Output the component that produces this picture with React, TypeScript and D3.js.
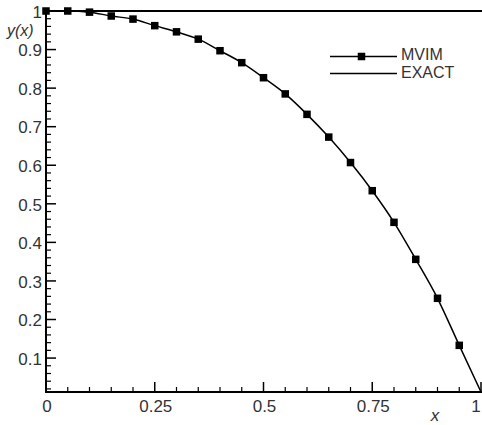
import React from "react";
import * as d3 from "d3";

const xValues = [0, 0.05, 0.1, 0.15, 0.2, 0.25, 0.3, 0.35, 0.4, 0.45, 0.5, 0.55, 0.6, 0.65, 0.7, 0.75, 0.8, 0.85, 0.9, 0.95];
const mvimValues = [1.0, 1.0, 0.997, 0.987, 0.979, 0.962, 0.946, 0.927, 0.897, 0.866, 0.827, 0.785, 0.732, 0.673, 0.607, 0.534, 0.452, 0.356, 0.255, 0.133];
const curveEnd = { x: 1, y: 0.012 };
const exactX = [0, 1.005];
const exactY = [1, 1];
const xTicks = [0, 0.25, 0.5, 0.75, 1];
const xTickLabels = ["0", "0.25", "0.5", "0.75", "1"];
const yTicks = [0.1, 0.2, 0.3, 0.4, 0.5, 0.6, 0.7, 0.8, 0.9, 1];
const yTickLabels = ["0.1", "0.2", "0.3", "0.4", "0.5", "0.6", "0.7", "0.8", "0.9", "1"];
const legendLabels = ["MVIM", "EXACT"];

const W = 482;
const H = 425;
const FONT = "'Liberation Sans', Arial, Helvetica, sans-serif";

export default function App() {
  const x = d3.scaleLinear().domain([0, 1]).range([46, 481]);
  const y = d3.scaleLinear().domain([0.012, 1]).range([392, 11]);

  const pts: [number, number][] = xValues.map((v, i) => [v, mvimValues[i]]);
  const linePts: [number, number][] = [...pts, [curveEnd.x, curveEnd.y]];
  const line = d3
    .line<[number, number]>()
    .x((d) => x(d[0]))
    .y((d) => y(d[1]))
    .curve(d3.curveMonotoneX);
  const exactLine = d3
    .line<number>()
    .x((d) => x(d))
    .y((_, i) => y(exactY[i]));

  const xMinor = d3.range(0, 1.0001, 0.05).filter((v) => Math.abs(v / 0.25 - Math.round(v / 0.25)) > 1e-6);
  const yMinor = d3.range(0.02, 1.0001, 0.02).filter((v) => Math.abs(v / 0.1 - Math.round(v / 0.1)) > 1e-6);

  const x0 = x(0);
  const yBase = 392;
  const ms = 7.5;

  return (
    <svg
      width={W}
      height={H}
      style={{ position: "absolute", left: 0, top: 0, background: "#fff" }}
      fontFamily={FONT}
    >
      <rect width={W} height={H} fill="#fff" />
      {/* axes */}
      <line x1={x0} x2={x0} y1={y(1) - 1} y2={yBase + 1} stroke="#000" strokeWidth={2} />
      <line x1={x0 - 1} x2={W} y1={yBase} y2={yBase} stroke="#000" strokeWidth={2} />
      {/* y ticks */}
      {yTicks.map((t, i) => (
        <g key={"yt" + i}>
          <line x1={x0} x2={x0 + 10} y1={y(t)} y2={y(t)} stroke="#000" strokeWidth={1.5} />
          <text x={42} y={y(t)} dy="0.4em" textAnchor="end" fontSize={17} fill="#333">
            {yTickLabels[i]}
          </text>
        </g>
      ))}
      {yMinor.map((t, i) => (
        <line key={"ym" + i} x1={x0} x2={x0 + 5} y1={y(t)} y2={y(t)} stroke="#000" strokeWidth={1.2} />
      ))}
      {/* x ticks */}
      {xTicks.map((t, i) => (
        <g key={"xt" + i}>
          <line x1={x(t)} x2={x(t)} y1={yBase} y2={yBase - 10} stroke="#000" strokeWidth={1.5} />
          <text x={Math.min(x(t) + 1, 476)} y={412} textAnchor="middle" fontSize={17} fill="#333">
            {xTickLabels[i]}
          </text>
        </g>
      ))}
      {xMinor.map((t, i) => (
        <line key={"xm" + i} x1={x(t)} x2={x(t)} y1={yBase} y2={yBase - 5} stroke="#000" strokeWidth={1.2} />
      ))}
      {/* axis titles */}
      <text x={435} y={421} textAnchor="middle" fontSize={17} fontStyle="italic" fill="#333">
        x
      </text>
      <text x={7} y={36} fontSize={16} fontStyle="italic" fill="#333">
        y(x)
      </text>
      {/* EXACT */}
      <path d={exactLine(exactX) || ""} fill="none" stroke="#000" strokeWidth={2} />
      {/* MVIM */}
      <path d={line(linePts) || ""} fill="none" stroke="#000" strokeWidth={1.5} />
      {pts.map((d, i) => (
        <rect key={"m" + i} x={x(d[0]) - ms / 2} y={y(d[1]) - ms / 2} width={ms} height={ms} fill="#000" />
      ))}
      {/* legend */}
      <line x1={330} x2={397} y1={56.5} y2={56.5} stroke="#000" strokeWidth={1.5} />
      <rect x={361.5 - ms / 2} y={56.5 - ms / 2} width={ms} height={ms} fill="#000" />
      <text x={401} y={60} fontSize={16} fill="#333">
        {legendLabels[0]}
      </text>
      <line x1={330} x2={397} y1={73.5} y2={73.5} stroke="#000" strokeWidth={1.5} />
      <text x={401} y={78} fontSize={16} fill="#333">
        {legendLabels[1]}
      </text>
    </svg>
  );
}
